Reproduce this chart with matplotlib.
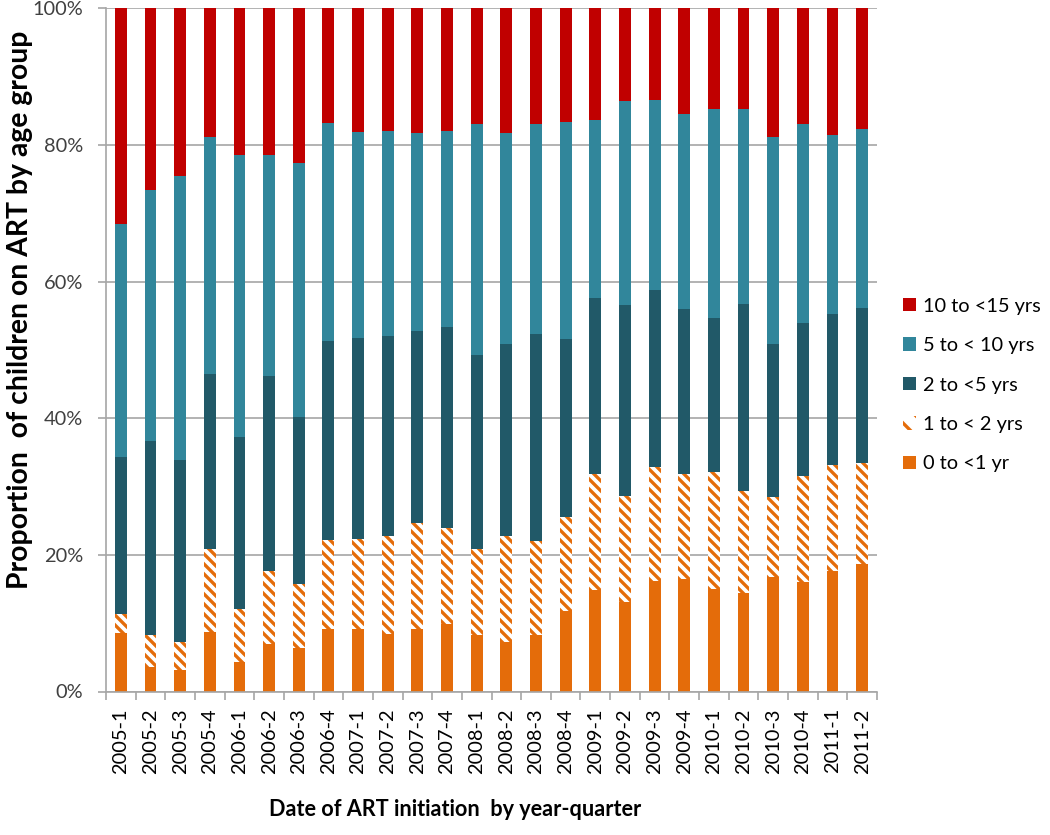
import matplotlib
matplotlib.use("Agg")
import matplotlib.pyplot as plt
import numpy as np
from matplotlib.patches import Patch

quarters = ["2005-1", "2005-2", "2005-3", "2005-4", "2006-1", "2006-2", "2006-3", "2006-4",
            "2007-1", "2007-2", "2007-3", "2007-4", "2008-1", "2008-2", "2008-3", "2008-4",
            "2009-1", "2009-2", "2009-3", "2009-4", "2010-1", "2010-2", "2010-3", "2010-4",
            "2011-1", "2011-2"]

# Percent of children in each age group (per quarter)
age_0_1 = [8.5, 3.6, 3.2, 8.7, 4.3, 6.9, 6.3, 9.1, 9.2, 8.4, 9.2, 9.9, 8.2,
           7.3, 8.3, 11.8, 14.9, 13.1, 16.2, 16.4, 15.0, 14.4, 16.8, 16.0, 17.6, 18.6]
age_1_2 = [2.8, 4.6, 4.1, 12.1, 7.8, 10.7, 9.5, 13.1, 13.1, 14.3, 15.5, 14.1, 12.7,
           15.4, 13.8, 13.8, 17.0, 15.5, 16.6, 15.5, 17.1, 14.9, 11.6, 15.5, 15.6, 14.8]
age_2_5 = [23.0, 28.5, 26.6, 25.6, 25.2, 28.6, 24.4, 29.1, 29.4, 29.4, 28.1, 29.4, 28.4,
           28.2, 30.2, 26.0, 25.7, 27.9, 26.0, 24.1, 22.6, 27.4, 22.5, 22.4, 22.1, 22.8]
age_5_10 = [34.2, 36.7, 41.5, 34.8, 41.2, 32.3, 37.2, 31.9, 30.2, 30.0, 28.9, 28.7, 33.7,
            30.8, 30.7, 31.8, 26.0, 29.9, 27.8, 28.6, 30.5, 28.5, 30.3, 29.1, 26.2, 26.1]
age_10_15 = [31.5, 26.6, 24.6, 18.8, 21.5, 21.5, 22.6, 16.8, 18.1, 17.9, 18.3, 17.9, 17.0,
             18.3, 17.0, 16.6, 16.4, 13.6, 13.4, 15.4, 14.8, 14.8, 18.8, 17.0, 18.5, 17.7]

series_labels = ["0 to <1 yr", "1 to < 2 yrs", "2 to <5 yrs", "5 to < 10 yrs", "10 to <15 yrs"]
yticks = [0, 20, 40, 60, 80, 100]

ORANGE = "#E46C0A"
DARK = "#215968"
TEAL = "#31869B"
RED = "#C00000"
GRID = "#A6A6A6"
HATCH = "\\\\\\\\"

plt.rcParams["font.family"] = ["Lato", "DejaVu Sans"]
plt.rcParams["hatch.linewidth"] = 2.0

fig = plt.figure(figsize=(8.75, 835 / 120), dpi=120)
ax = fig.add_axes([106 / 1050, 1 - 691.5 / 835, (877 - 106) / 1050, (691.5 - 8.3) / 835])

x = np.arange(len(quarters))
w = 0.4
bottom = np.zeros(len(quarters))

ax.bar(x, age_0_1, w, bottom=bottom, color=ORANGE, linewidth=0, zorder=2)
bottom += np.array(age_0_1)
ax.bar(x, age_1_2, w, bottom=bottom, facecolor="white", edgecolor=ORANGE,
       hatch=HATCH, linewidth=0, zorder=2)
bottom += np.array(age_1_2)
ax.bar(x, age_2_5, w, bottom=bottom, color=DARK, linewidth=0, zorder=2)
bottom += np.array(age_2_5)
ax.bar(x, age_5_10, w, bottom=bottom, color=TEAL, linewidth=0, zorder=2)
bottom += np.array(age_5_10)
ax.bar(x, age_10_15, w, bottom=bottom, color=RED, linewidth=0, zorder=2)

ax.set_xlim(-0.5, len(quarters) - 0.5)
ax.set_ylim(0, 100)
ax.set_yticks(yticks)
ax.set_yticklabels([f"{v}%" for v in yticks])
ax.yaxis.grid(True, color=GRID, linewidth=1.0)
ax.set_axisbelow(True)

ax.set_xticks(x)
ax.set_xticklabels(quarters, rotation=90)
ax.set_xticks(np.arange(-0.5, len(quarters), 1.0), minor=True)
ax.tick_params(axis="x", which="major", length=0, pad=10, labelsize=12, labelcolor="#000000")
ax.tick_params(axis="x", which="minor", length=4.8, width=1.0, color=GRID, direction="out")
ax.tick_params(axis="y", length=4.8, width=1.0, color=GRID, pad=9, labelsize=12,
               labelcolor="#404040")

for s in ["top", "right"]:
    ax.spines[s].set_visible(False)
for s in ["left", "bottom"]:
    ax.spines[s].set_color(GRID)
    ax.spines[s].set_linewidth(1.0)

fig.text(20 / 1050, 1 - 310 / 835, "Proportion  of children on ART by age group",
         rotation=90, ha="center", va="center", fontsize=17, fontweight="bold")
fig.text(455 / 1050, 1 - 810 / 835, "Date of ART initiation  by year-quarter",
         ha="center", va="center", fontsize=13, fontweight="bold")

handles = [
    Patch(facecolor=RED, linewidth=0),
    Patch(facecolor=TEAL, linewidth=0),
    Patch(facecolor=DARK, linewidth=0),
    Patch(facecolor="white", edgecolor=ORANGE, hatch="\\\\", linewidth=0),
    Patch(facecolor=ORANGE, linewidth=0),
]
labels = series_labels[::-1]
fig.legend(handles, labels, loc="center left", bbox_to_anchor=(903 / 1050, 1 - 385 / 835),
           bbox_transform=fig.transFigure, frameon=False, fontsize=12,
           handlelength=0.65, handleheight=0.65, handletextpad=0.35,
           labelspacing=1.12, borderpad=0, borderaxespad=0)

fig.savefig("out.png", dpi=120)
